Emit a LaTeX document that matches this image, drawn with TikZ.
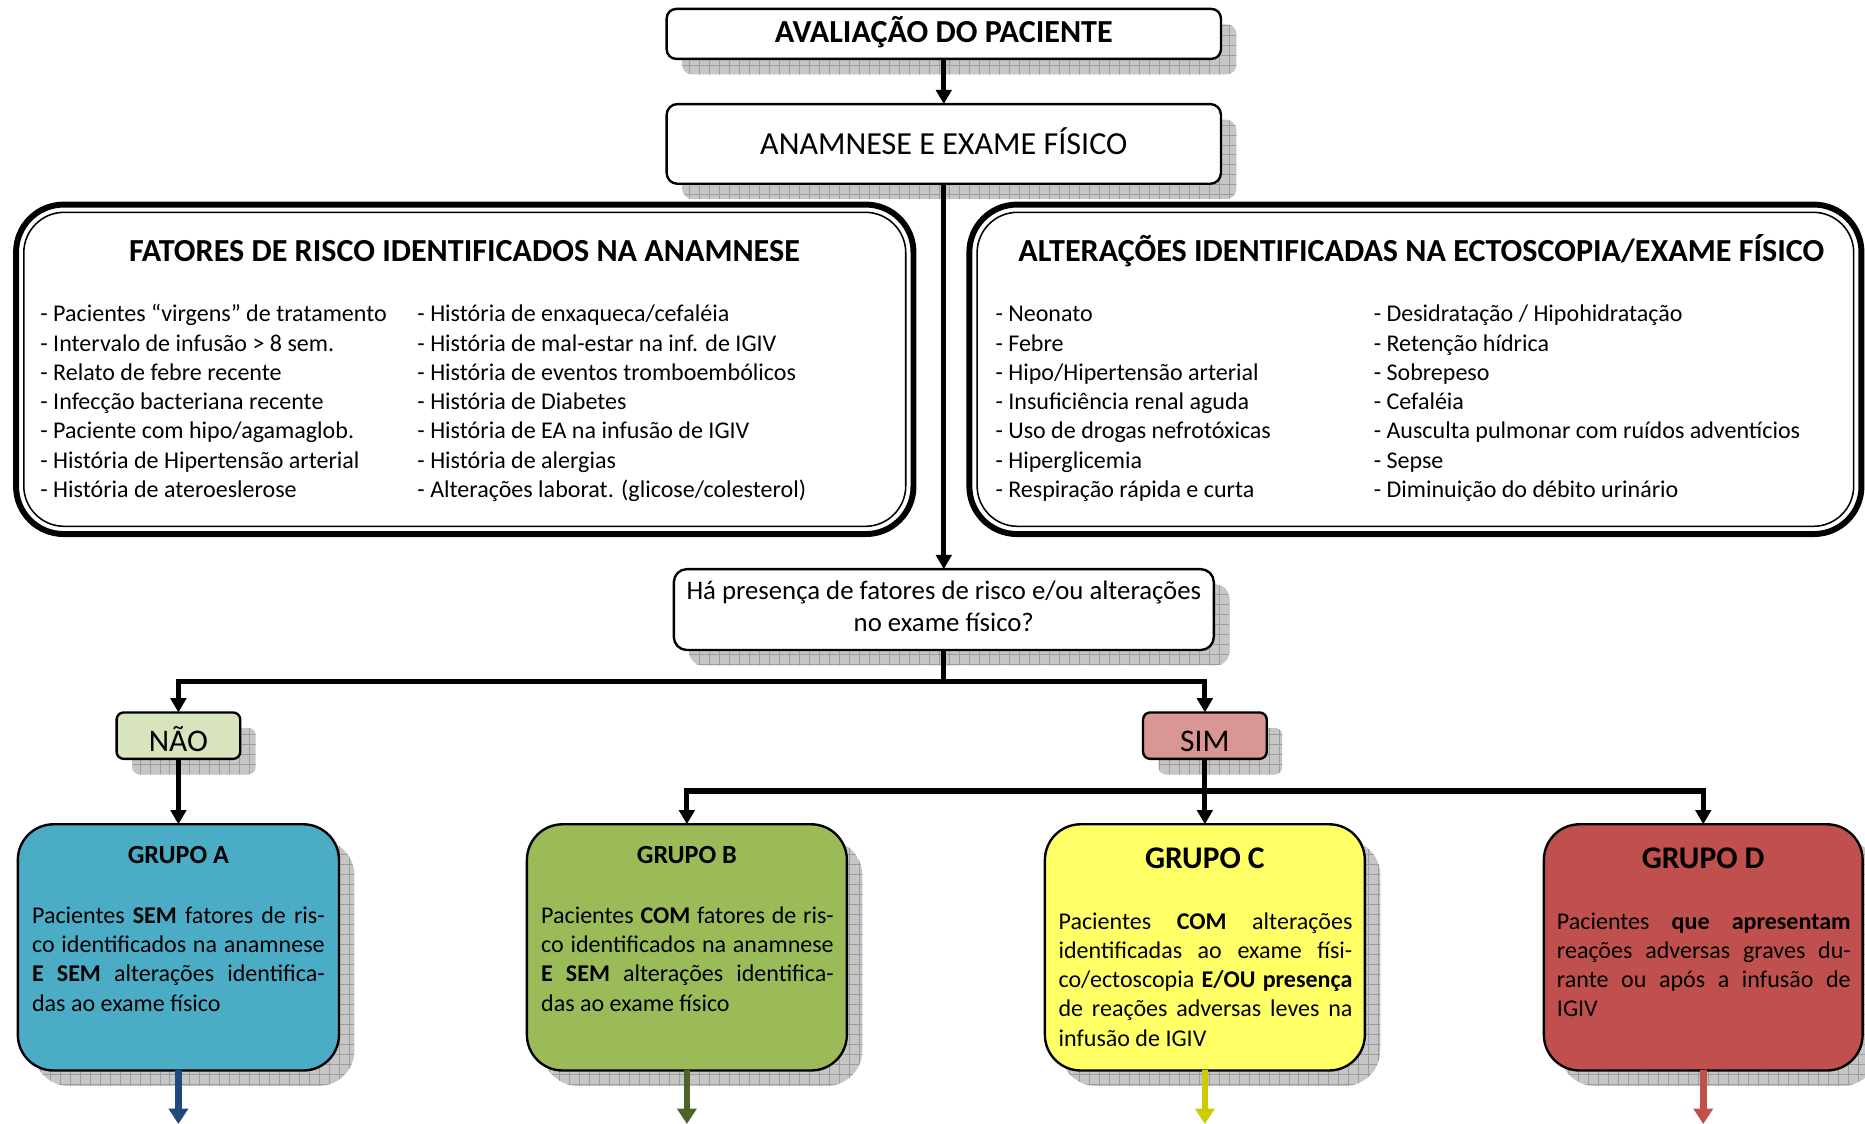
\documentclass[tikz,border=0pt]{standalone}
\usepackage{fontspec}
\setmainfont{Carlito}
\usetikzlibrary{arrows.meta,shadows,patterns.meta}

\definecolor{shgray}{HTML}{C6C6C6}
\definecolor{gridgray}{HTML}{9C9C9C}
\definecolor{naofill}{HTML}{D7E4BD}
\definecolor{simfill}{HTML}{D99694}
\definecolor{gafill}{HTML}{4BACC6}
\definecolor{gbfill}{HTML}{9BBB59}
\definecolor{gcfill}{HTML}{FFFF66}
\definecolor{gdfill}{HTML}{C0504D}
\definecolor{aarrow}{HTML}{1F497D}
\definecolor{barrow}{HTML}{4F6228}
\definecolor{carrow}{HTML}{CCCC00}
\definecolor{darrow}{HTML}{C0504D}

\newcommand{\bodyfs}{\fontsize{20.2}{24.6}\selectfont}
\newcommand{\grpfs}{\fontsize{20.2}{24.5}\selectfont}
\newcommand{\qfs}{\fontsize{22.5}{27}\selectfont}
\newcommand{\titlefs}{\fontsize{27}{32}\selectfont}
\newcommand{\grptitlefs}{\fontsize{26.5}{32}\selectfont}
\newcommand{\smalltitlefs}{\fontsize{22}{27}\selectfont}

\tikzset{
  shadowed/.style={
    general shadow={fill=shgray, shadow xshift=13pt, shadow yshift=-13pt},
    general shadow={pattern={Hatch[angle=0,distance=8.4pt,line width=0.6pt]},
                    pattern color=gridgray, shadow xshift=13pt, shadow yshift=-13pt}},
  flowbox/.style={draw, line width=2pt, fill=white, inner sep=0pt, outer sep=0pt, shadowed},
  grpbox/.style={flowbox, rounded corners=30pt},
  bigbox/.style={draw, line width=5pt, rounded corners=40pt, inner sep=0pt, outer sep=0pt},
  innerline/.style={line width=1.3pt, rounded corners=34pt},
  txt/.style={inner sep=0pt, outer sep=0pt},
  conn/.style={line width=4.3pt, draw=black},
  arr/.style={-{Triangle[width=13pt,length=12pt]}},
  outarrow/.style={line width=5.5pt, -{Triangle[width=16pt,length=13pt]}},
}

\begin{document}
\begin{tikzpicture}[x=1pt, y=-1pt]
\useasboundingbox (0,0) rectangle (1568,945);

% top of the flow
\node[flowbox, rounded corners=8pt, minimum width=466, minimum height=42] (aval) at (793.5,28.5) {};
\node[txt, anchor=base] (avalt) at (793.5,35.5) {\titlefs\bfseries AVALIAÇÃO DO PACIENTE};

\node[flowbox, rounded corners=9pt, minimum width=466, minimum height=67] (anam) at (793.5,121) {};
\node[txt, anchor=base] (anamt) at (793.5,129.5) {\titlefs ANAMNESE E EXAME FÍSICO};

% risk factors panel
\node[bigbox, minimum width=754.5, minimum height=277] (risk) at (390.75,310.5) {};
\draw[innerline] ([shift={(6.5,6.5)}]risk.north west) rectangle ([shift={(-6.5,-6.5)}]risk.south east);
\node[txt, anchor=base] (riskt) at (390.5,219.5) {\titlefs\bfseries FATORES DE RISCO IDENTIFICADOS NA ANAMNESE};
\node[txt, anchor=base west] (riska) at (34,270.5) {\parbox[t]{310pt}{\bodyfs\raggedright
- Pacientes “virgens” de tratamento\\
- Intervalo de infusão > 8 sem.\\
- Relato de febre recente\\
- Infecção bacteriana recente\\
- Paciente com hipo/agamaglob.\\
- História de Hipertensão arterial\\
- História de ateroeslerose}};
\node[txt, anchor=base west] (riskb) at (351,270.5) {\parbox[t]{400pt}{\bodyfs\raggedright
- História de enxaqueca/cefaléia\\
- História de mal-estar na inf. de IGIV\\
- História de eventos tromboembólicos\\
- História de Diabetes\\
- História de EA na infusão de IGIV\\
- História de alergias\\
- Alterações laborat. (glicose/colesterol)}};

% physical exam panel
\node[bigbox, minimum width=750, minimum height=277] (exam) at (1190,310.5) {};
\draw[innerline] ([shift={(6.5,6.5)}]exam.north west) rectangle ([shift={(-6.5,-6.5)}]exam.south east);
\node[txt, anchor=base] (examt) at (1195,219.5) {\titlefs\bfseries ALTERAÇÕES IDENTIFICADAS NA ECTOSCOPIA/EXAME FÍSICO};
\node[txt, anchor=base west] (exama) at (837,270.5) {\parbox[t]{310pt}{\bodyfs\raggedright
- Neonato\\
- Febre\\
- Hipo/Hipertensão arterial\\
- Insuficiência renal aguda\\
- Uso de drogas nefrotóxicas\\
- Hiperglicemia\\
- Respiração rápida e curta}};
\node[txt, anchor=base west] (examb) at (1155,270.5) {\parbox[t]{400pt}{\bodyfs\raggedright
- Desidratação / Hipohidratação\\
- Retenção hídrica\\
- Sobrepeso\\
- Cefaléia\\
- Ausculta pulmonar com ruídos adventícios\\
- Sepse\\
- Diminuição do débito urinário}};

% decision
\node[flowbox, rounded corners=11pt, minimum width=454, minimum height=68] (quest) at (793.5,512.5) {};
\node[txt, anchor=base] (questa) at (793.5,504) {\qfs Há presença de fatores de risco e/ou alterações};
\node[txt, anchor=base] (questb) at (793.5,531) {\qfs no exame físico?};

\node[flowbox, fill=naofill, rounded corners=6pt, minimum width=104, minimum height=39] (nao) at (150,618.5) {};
\node[txt, anchor=base] (naot) at (150,631.5) {\grptitlefs NÃO};
\node[flowbox, fill=simfill, rounded corners=6pt, minimum width=104, minimum height=39] (sim) at (1013,618.5) {};
\node[txt, anchor=base] (simt) at (1013,631.5) {\grptitlefs SIM};

% groups
\node[grpbox, fill=gafill, minimum width=270, minimum height=207] (ga) at (150,796.5) {};
\node[txt, anchor=base] (gat) at (150,726) {\smalltitlefs\bfseries GRUPO A};
\node[txt, anchor=base west] (gab) at (27,776.5) {\parbox[t]{246pt}{\grpfs
Pacientes \textbf{SEM} fatores de ris-\linebreak
co identificados na anamnese\linebreak
\textbf{E SEM} alterações identifica-\linebreak
das ao exame físico}};

\node[grpbox, fill=gbfill, minimum width=269, minimum height=207] (gb) at (577.5,796.5) {};
\node[txt, anchor=base] (gbt) at (577.5,726) {\smalltitlefs\bfseries GRUPO B};
\node[txt, anchor=base west] (gbb) at (455,776.5) {\parbox[t]{246pt}{\grpfs
Pacientes \textbf{COM} fatores de ris-\linebreak
co identificados na anamnese\linebreak
\textbf{E SEM} alterações identifica-\linebreak
das ao exame físico}};

\node[grpbox, fill=gcfill, minimum width=269, minimum height=207] (gc) at (1013,796.5) {};
\node[txt, anchor=base] (gct) at (1013,730.5) {\grptitlefs\bfseries GRUPO C};
\node[txt, anchor=base west] (gcb) at (890,781.5) {\parbox[t]{247pt}{\grpfs
Pacientes \textbf{COM} alterações\linebreak
identificadas ao exame físi-\linebreak
co/ectoscopia \textbf{E/OU presença}\linebreak
de reações adversas leves na\linebreak
infusão de IGIV}};

\node[grpbox, fill=gdfill, minimum width=268, minimum height=207] (gd) at (1432,796.5) {};
\node[txt, anchor=base] (gdt) at (1432,730.5) {\grptitlefs\bfseries GRUPO D};
\node[txt, anchor=base west] (gdb) at (1309,781.5) {\parbox[t]{247pt}{\grpfs
Pacientes \textbf{que apresentam}\linebreak
reações adversas graves du-\linebreak
rante ou após a infusão de\linebreak
IGIV}};

% connectors
\coordinate (qj) at (793.5,573);
\coordinate (sj) at (1013,665);
\draw[conn, arr] (aval) -- (anam);
\draw[conn, arr] (anam) -- (quest);
\draw[conn] (quest.south) -- (qj);
\draw[conn, arr] (qj) -| (nao.north);
\draw[conn, arr] (qj) -| (sim.north);
\draw[conn, arr] (nao) -- (ga);
\draw[conn] (sim.south) -- (sj);
\draw[conn, arr] (sj) -| (gb.north);
\draw[conn, arr] (sj) -- (gc.north);
\draw[conn, arr] (sj) -| (gd.north);

% outgoing arrows below the groups
\coordinate (ea) at (150,945);
\coordinate (eb) at (577.5,945);
\coordinate (ec) at (1013,945);
\coordinate (ed) at (1432,945);
\draw[outarrow, aarrow] (ga.south) -- (ea);
\draw[outarrow, barrow] (gb.south) -- (eb);
\draw[outarrow, carrow] (gc.south) -- (ec);
\draw[outarrow, darrow] (gd.south) -- (ed);
\end{tikzpicture}
\end{document}
